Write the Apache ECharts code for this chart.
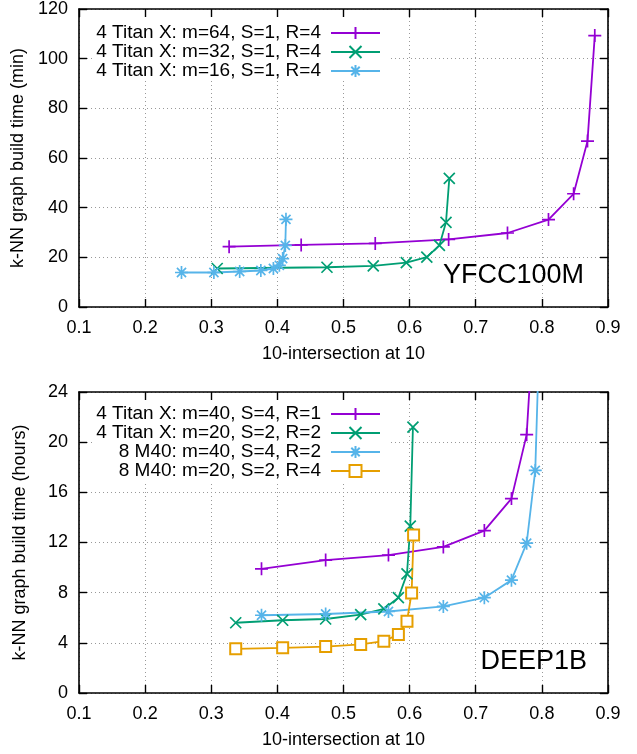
<!DOCTYPE html>
<html>
<head>
<meta charset="utf-8">
<script src="https://cdn.jsdelivr.net/npm/echarts@6/dist/echarts.min.js"></script>
<style>
html,body{margin:0;padding:0;background:#fff;}
#chart{width:637px;height:754px;}
</style>
</head>
<body>
<div id="chart"></div>
<script>
// ---- tick values ----
const xTicks = [0.1, 0.2, 0.3, 0.4, 0.5, 0.6, 0.7, 0.8, 0.9];
const yTicksTop = [0, 20, 40, 60, 80, 100, 120];
const yTicksBottom = [0, 4, 8, 12, 16, 20, 24];

// ---- YFCC100M (top) ----
const topNames = ['4 Titan X: m=64, S=1, R=4', '4 Titan X: m=32, S=1, R=4', '4 Titan X: m=16, S=1, R=4'];
const m64x = [0.327, 0.436, 0.548, 0.659, 0.748, 0.810, 0.848, 0.869, 0.880];
const m64y = [24.3, 25.0, 25.6, 27.2, 29.8, 35.2, 45.6, 66.8, 109.3];
const m32x = [0.309, 0.475, 0.545, 0.595, 0.626, 0.645, 0.655, 0.660];
const m32y = [15.5, 16.0, 16.6, 17.9, 20.1, 24.8, 34.1, 51.8];
const m16x = [0.255, 0.304, 0.343, 0.375, 0.394, 0.403, 0.408, 0.412, 0.413];
const m16y = [13.9, 13.9, 14.3, 14.7, 15.5, 16.8, 19.5, 24.8, 35.3];

// ---- DEEP1B (bottom) ----
const botNames = ['4 Titan X: m=40, S=4, R=1', '4 Titan X: m=20, S=2, R=2', '8 M40: m=40, S=4, R=2', '8 M40: m=20, S=2, R=4'];
const t40x = [0.376, 0.473, 0.568, 0.651, 0.713, 0.754, 0.777, 0.790];
const t40y = [9.9, 10.6, 11.0, 11.65, 12.95, 15.5, 20.6, 32];
const t20x = [0.337, 0.408, 0.473, 0.526, 0.561, 0.583, 0.596, 0.601, 0.605];
const t20y = [5.6, 5.8, 5.9, 6.25, 6.7, 7.6, 9.5, 13.3, 21.2];
const k40x = [0.376, 0.473, 0.568, 0.651, 0.713, 0.754, 0.777, 0.790, 0.797];
const k40y = [6.2, 6.3, 6.5, 6.9, 7.6, 9.0, 11.95, 17.75, 30];
const k20x = [0.337, 0.408, 0.473, 0.526, 0.561, 0.583, 0.596, 0.603, 0.606];
const k20y = [3.52, 3.6, 3.7, 3.87, 4.13, 4.67, 5.73, 7.97, 12.6];

const FONT = "'Liberation Sans', Arial, Helvetica, sans-serif";
const C = {purple:'#9400D3', green:'#009E73', blue:'#56B4E9', orange:'#E69F00'};
const SYM = {
  plus: 'path://M0,5L10,5M5,0L5,10',
  cross: 'path://M0,0L10,10M10,0L0,10',
  star: 'path://M0,5L10,5M5,0L5,10M1.5,1.5L8.5,8.5M8.5,1.5L1.5,8.5',
  square: 'emptyRect'
};
const zip = (xs, ys) => xs.map((x, i) => [x, ys[i]]);

const G0 = {left:79, top:6, width:529, height:301};
const G1 = {left:79, top:392, width:529, height:301};

function xAxes(gi){
  const base = {gridIndex:gi, type:'value', min:xTicks[0], max:xTicks[xTicks.length-1], interval:0.1,
    axisLine:{show:true, onZero:false, lineStyle:{color:'#000', width:1.6}},
    axisTick:{show:true, inside:true, length:8, lineStyle:{color:'#000', width:1.4}}};
  return [
    Object.assign({}, base, {position:'bottom',
      axisLabel:{fontFamily:FONT, fontSize:18, color:'#000', margin:12, formatter:v=>v.toFixed(1)},
      splitLine:{show:true, lineStyle:{type:[1,3], color:'#999', width:1}},
      name:'10-intersection at 10', nameLocation:'middle', nameGap:38,
      nameTextStyle:{fontFamily:FONT, fontSize:18, color:'#000'}}),
    Object.assign({}, base, {position:'top', axisLabel:{show:false}, splitLine:{show:false}})
  ];
}
function yAxes(gi, ticks, name){
  const base = {gridIndex:gi, type:'value', min:ticks[0], max:ticks[ticks.length-1], interval:ticks[1]-ticks[0],
    axisLine:{show:true, onZero:false, lineStyle:{color:'#000', width:1.6}},
    axisTick:{show:true, inside:true, length:8, lineStyle:{color:'#000', width:1.4}}};
  return [
    Object.assign({}, base, {position:'left',
      axisLabel:{fontFamily:FONT, fontSize:18, color:'#000', margin:11},
      splitLine:{show:true, lineStyle:{type:[1,3], color:'#999', width:1}},
      name:name, nameLocation:'middle', nameGap:50,
      nameTextStyle:{fontFamily:FONT, fontSize:18, color:'#000'}}),
    Object.assign({}, base, {position:'right', axisLabel:{show:false}, splitLine:{show:false}})
  ];
}

function ser(name, data, color, sym, size, xi, yi){
  return {name:name, type:'line', data:data, xAxisIndex:xi, yAxisIndex:yi,
    symbol:sym, symbolSize:size, showSymbol:true, showAllSymbol:true, clip:true,
    lineStyle:{color:color, width:1.8},
    itemStyle:{color:color, borderColor:color, borderWidth:1.7},
    z:2, animation:false};
}

const series = [
  ser(topNames[0], zip(m64x, m64y), C.purple, SYM.plus, 13, 0, 0),
  ser(topNames[1], zip(m32x, m32y), C.green, SYM.cross, 11, 0, 0),
  ser(topNames[2], zip(m16x, m16y), C.blue, SYM.star, 13, 0, 0),
  ser(botNames[0], zip(t40x, t40y), C.purple, SYM.plus, 13, 2, 2),
  ser(botNames[1], zip(t20x, t20y), C.green, SYM.cross, 11, 2, 2),
  ser(botNames[2], zip(k40x, k40y), C.blue, SYM.star, 13, 2, 2),
  ser(botNames[3], zip(k20x, k20y), C.orange, SYM.square, 11, 2, 2)
];

function legendRow(name, top){
  return {data:[name], orient:'horizontal', align:'right', right:256, top:top, padding:0,
    itemWidth:49, itemHeight:15, itemGap:0, selectedMode:false, z:5,
    textStyle:{fontFamily:FONT, fontSize:19, color:'#000', lineHeight:19, padding:[0,5,0,0]}};
}
const legends = [];
[33, 52, 71].forEach((c, i) => legends.push(legendRow(topNames[i], c - 9.5)));
[414, 433, 452, 471].forEach((c, i) => legends.push(legendRow(botNames[i], c - 9.5)));

const option = {
  animation:false,
  backgroundColor:'#fff',
  grid:[G0, G1],
  xAxis:[...xAxes(0), ...xAxes(1)],
  yAxis:[...yAxes(0, yTicksTop, 'k-NN graph build time (min)'), ...yAxes(1, yTicksBottom, 'k-NN graph build time (hours)')],
  legend:legends,
  graphic:[
    {type:'rect', shape:{x:92, y:17, width:299, height:63}, style:{fill:'#fff'}, z:1, silent:true},
    {type:'rect', shape:{x:92, y:400, width:299, height:83}, style:{fill:'#fff'}, z:1, silent:true},
    {type:'text', x:584, y:276, style:{text:'YFCC100M', fontFamily:FONT, fontSize:27, fill:'#000', align:'right', verticalAlign:'middle'}, z:3},
    {type:'text', x:587, y:662, style:{text:'DEEP1B', fontFamily:FONT, fontSize:27, fill:'#000', align:'right', verticalAlign:'middle'}, z:3}
  ],
  series:series
};
const chart = echarts.init(document.getElementById('chart'), null, {renderer:'canvas'});
chart.setOption(option);
</script>
</body>
</html>
